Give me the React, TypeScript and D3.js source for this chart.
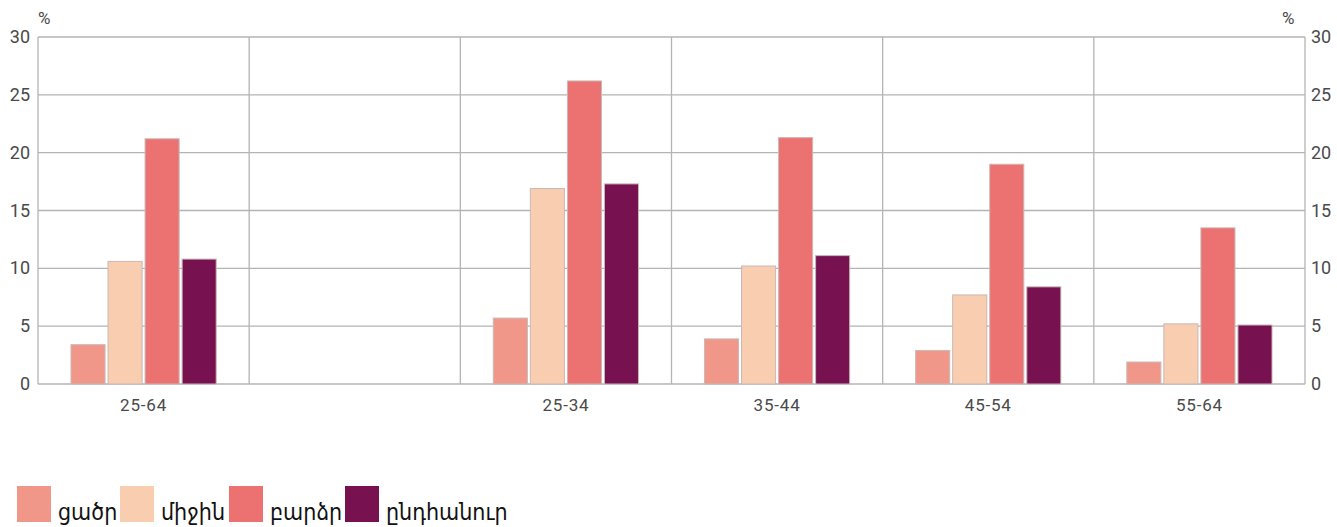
import React, { useEffect } from "react";
import * as d3 from "d3";

const categories = ["25-64", "", "25-34", "35-44", "45-54", "55-64"];
const seriesNames = ["ցածր", "միջին", "բարձր", "ընդհանուր"];
const seriesColors = ["#F1978A", "#F9CDB0", "#EC7171", "#77114F"];
const low = [3.4, null, 5.7, 3.9, 2.9, 1.9];
const mid = [10.6, null, 16.9, 10.2, 7.7, 5.2];
const high = [21.2, null, 26.2, 21.3, 19.0, 13.5];
const total = [10.8, null, 17.3, 11.1, 8.4, 5.1];
const yTicks = [0, 5, 10, 15, 20, 25, 30];

const W = 1337, H = 527;
const left = 38, right = 1305, top = 37, bottom = 384;

export default function App() {
  useEffect(() => {
    document.body.style.margin = "0";
  }, []);
  const series = [low, mid, high, total];
  const x = d3.scaleBand<number>().domain(d3.range(categories.length)).range([left, right]).padding(0);
  const xs = d3.scaleBand<number>().domain(d3.range(4)).range([0, x.bandwidth()]).paddingInner(0.08).paddingOuter(0.89);
  const y = d3.scaleLinear().domain([0, 30]).range([bottom, top]);
  const numFont = "Roboto, 'DejaVu Sans', sans-serif";
  const boundaries = d3.range(categories.length + 1).map((i) => (i < categories.length ? x(i)! : right));
  const legendX = [17, 120, 229, 345];
  return (
    <svg width={W} height={H} style={{ display: "block", background: "#fff" }}>
      {yTicks.map((t) => (
        <line key={"h" + t} x1={left} x2={right} y1={y(t)} y2={y(t)} stroke="#b4b4b4" strokeWidth={1.3} />
      ))}
      {boundaries.map((b, i) => (
        <line key={"v" + i} x1={b} x2={b} y1={top} y2={bottom} stroke="#b4b4b4" strokeWidth={1.3} />
      ))}
      {series.map((s, si) =>
        s.map((v, ci) =>
          v == null ? null : (
            <rect
              key={si + "-" + ci}
              x={x(ci)! + xs(si)!}
              y={y(v)}
              width={xs.bandwidth()}
              height={y(0) - y(v)}
              fill={seriesColors[si]}
              stroke="#c9b9b6"
              strokeWidth={1}
            />
          )
        )
      )}
      {yTicks.map((t) => (
        <g key={"l" + t} fontFamily={numFont} fontSize={18} fill="#4a4a4a">
          <text x={30} y={y(t) + 6} textAnchor="end">{t}</text>
          <text x={1311} y={y(t) + 6} textAnchor="start">{t}</text>
        </g>
      ))}
      <text x={38} y={24} fontFamily={numFont} fontSize={17} fill="#4a4a4a">%</text>
      <text x={1282} y={24} fontFamily={numFont} fontSize={17} fill="#4a4a4a">%</text>
      {categories.map((c, i) => (
        <text key={"c" + i} x={x(i)! + x.bandwidth() / 2} y={411} textAnchor="middle" fontFamily={numFont} fontSize={17} letterSpacing={0.8} fill="#4a4a4a">
          {c}
        </text>
      ))}
      {seriesNames.map((n, i) => (
        <g key={"lg" + i}>
          <rect x={legendX[i]} y={486} width={34} height={36} fill={seriesColors[i]} />
          <text x={legendX[i] + 41} y={520} fontFamily="'DejaVu Sans Condensed', 'DejaVu Sans', sans-serif" fontSize={23} fill="#111">
            {n}
          </text>
        </g>
      ))}
    </svg>
  );
}
